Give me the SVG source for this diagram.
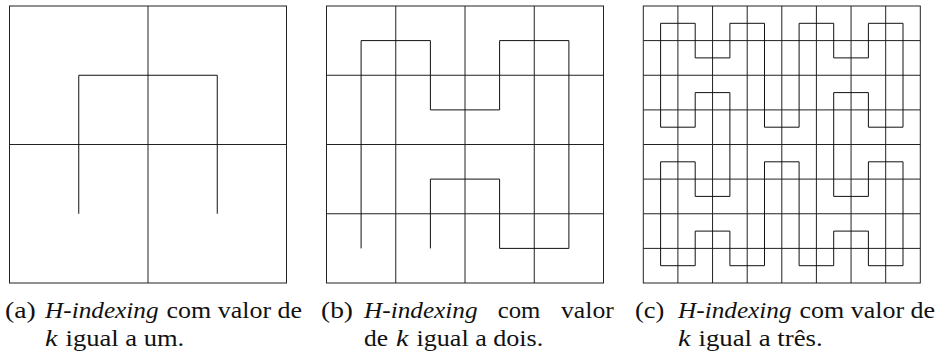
<svg xmlns="http://www.w3.org/2000/svg" width="938" height="356" viewBox="0 0 938 356">
<style>
.grid{fill:none;stroke:#222;stroke-width:1}
.curve{fill:none;stroke:#111;stroke-width:1;stroke-linejoin:miter}
.cap text{font-family:'Liberation Serif','DejaVu Serif','Noto Serif','Times New Roman',Tinos,'Nimbus Roman',FreeSerif,Georgia,serif;font-size:24px;fill:#111}
.cap .it{font-style:italic}
</style>
<rect width="938" height="356" fill="#fff"/>
<g id="panel-a" transform="translate(9.5,6)">
<rect class="grid" x="0" y="0" width="277" height="277"/>
<path class="grid" d="M138.5 0V277M0 138.5H277"/>
<path class="curve" d="M69.25 207.75V69.25H207.75V207.75"/>
</g>
<g id="panel-b" transform="translate(326.5,6)">
<rect class="grid" x="0" y="0" width="277" height="277"/>
<path class="grid" d="M69.25 0V277M138.5 0V277M207.75 0V277M0 69.25H277M0 138.5H277M0 207.75H277"/>
<path class="curve" d="M34.6 242.4V34.6H103.9V103.9H173.1V34.6H242.4V242.4H173.1V173.1H103.9V242.4"/>
</g>
<g id="panel-c" transform="translate(643.3,6)">
<rect class="grid" x="0" y="0" width="277" height="277"/>
<path class="grid" d="M34.6 0V277M69.25 0V277M103.9 0V277M138.5 0V277M173.1 0V277M207.75 0V277M242.4 0V277M0 34.6H277M0 69.25H277M0 103.9H277M0 138.5H277M0 173.1H277M0 207.75H277M0 242.4H277"/>
<path class="curve" d="M17.3 17.3H51.9V51.9H86.6V17.3H121.2V121.2H155.8V17.3H190.4V51.9H225.1V17.3H259.7V121.2H225.1V86.6H190.4V190.4H225.1V155.8H259.7V259.7H225.1V225.1H190.4V259.7H155.8V155.8H121.2V259.7H86.6V225.1H51.9V259.7H17.3V155.8H51.9V190.4H86.6V86.6H51.9V121.2H17.3Z"/>
</g>
<g id="caption-a" class="cap">
<text x="5" y="318" textLength="30.7" lengthAdjust="spacingAndGlyphs">(a)</text>
<text class="it" x="45" y="318" textLength="113.6" lengthAdjust="spacingAndGlyphs">H-indexing</text>
<text x="166.6" y="318" textLength="135.4" lengthAdjust="spacingAndGlyphs">com valor de</text>
<text class="it" x="45" y="346" textLength="12.5" lengthAdjust="spacingAndGlyphs">k</text>
<text x="65.5" y="346" textLength="118.7" lengthAdjust="spacingAndGlyphs">igual a um.</text>
</g>
<g id="caption-b" class="cap">
<text x="321" y="318" textLength="32" lengthAdjust="spacingAndGlyphs">(b)</text>
<text class="it" x="364" y="318" textLength="113.6" lengthAdjust="spacingAndGlyphs">H-indexing</text>
<text x="497.7" y="318" textLength="42.6" lengthAdjust="spacingAndGlyphs">com</text>
<text x="561" y="318" textLength="52.8" lengthAdjust="spacingAndGlyphs">valor</text>
<text x="364" y="346" textLength="24" lengthAdjust="spacingAndGlyphs">de</text>
<text class="it" x="396" y="346" textLength="12.5" lengthAdjust="spacingAndGlyphs">k</text>
<text x="416.5" y="346" textLength="126.8" lengthAdjust="spacingAndGlyphs">igual a dois.</text>
</g>
<g id="caption-c" class="cap">
<text x="635" y="318" textLength="29.3" lengthAdjust="spacingAndGlyphs">(c)</text>
<text class="it" x="678" y="318" textLength="113.6" lengthAdjust="spacingAndGlyphs">H-indexing</text>
<text x="799.6" y="318" textLength="135.4" lengthAdjust="spacingAndGlyphs">com valor de</text>
<text class="it" x="678" y="346" textLength="12.5" lengthAdjust="spacingAndGlyphs">k</text>
<text x="698.5" y="346" textLength="124.2" lengthAdjust="spacingAndGlyphs">igual a três.</text>
</g>
</svg>
